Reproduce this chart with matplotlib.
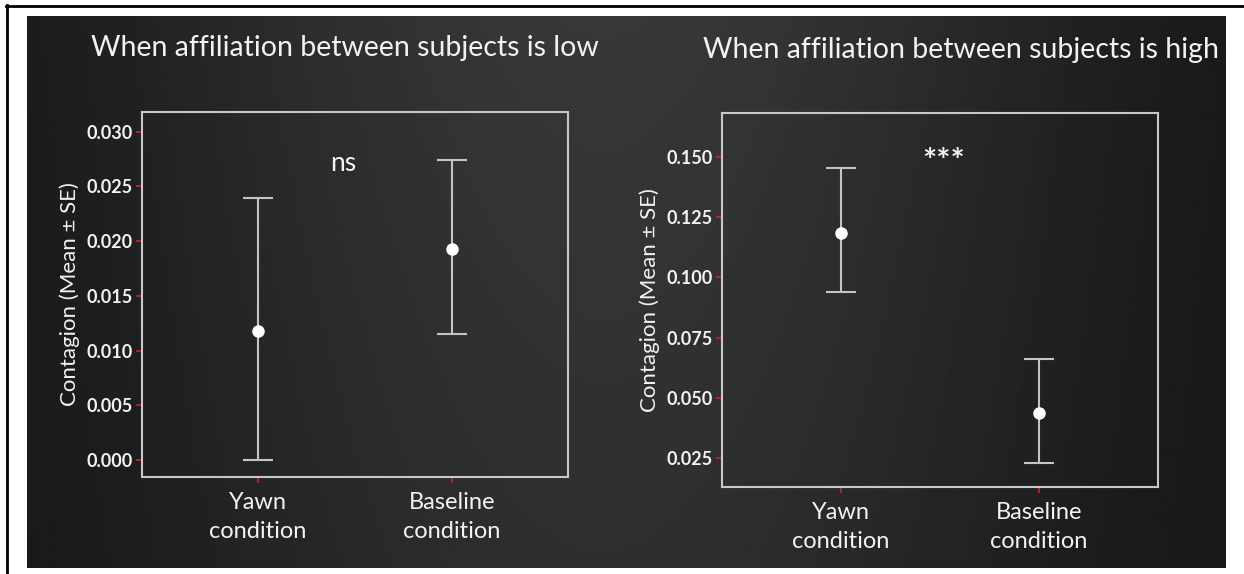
import numpy as np
import matplotlib
matplotlib.use('Agg')
import matplotlib.pyplot as plt
from matplotlib.lines import Line2D

plt.rcParams['font.family'] = ['Lato', 'DejaVu Sans']

# data
conditions = ['Yawn\ncondition', 'Baseline\ncondition']

low_mean = [0.0118, 0.0193]
low_lower = [0.0000, 0.0115]
low_upper = [0.0239, 0.0274]

high_mean = [0.1186, 0.0438]
high_lower = [0.0939, 0.0231]
high_upper = [0.1453, 0.0661]

low_ticks = [0.000, 0.005, 0.010, 0.015, 0.020, 0.025, 0.030]
high_ticks = [0.025, 0.050, 0.075, 0.100, 0.125, 0.150]

titles = ['When affiliation between subjects is low',
          'When affiliation between subjects is high']
signif = ['ns', '***']

W, H = 1244, 574
fig = plt.figure(figsize=(W / 100, H / 100), dpi=100, facecolor='white')

# dark slide background with a soft gradient
bg = fig.add_axes([27 / W, 1 - 568 / H, (1226 - 27) / W, (568 - 16) / H])
gx = np.linspace(0, 1, 400)
gy = np.linspace(0, 1, 200)
X, Y = np.meshgrid(gx, gy)
shade = 0.07 + 0.15 * np.exp(-((X - 0.48) / 0.42) ** 2) * (0.75 + 0.25 * Y)
bg.imshow(shade, cmap='gray', vmin=0, vmax=1, aspect='auto', origin='lower',
          extent=[0, 1, 0, 1])
bg.set_axis_off()

# black frame lines at top and left
fig.add_artist(Line2D([6 / W, 1], [1 - 5.5 / H, 1 - 5.5 / H], color='black', lw=2))
fig.add_artist(Line2D([6.5 / W, 6.5 / W], [0, 1 - 5 / H], color='black', lw=2))

frame_col = '#c8c8c8'
bar_col = '#c4c4c4'
text_col = '#f2f2f2'


def panel(rect, means, lower, upper, ticks, ylim, fmt):
    ax = fig.add_axes(rect)
    ax.patch.set_alpha(0)
    x = np.arange(1, len(means) + 1)
    m = np.array(means)
    yerr = [m - np.array(lower), np.array(upper) - m]
    ax.errorbar(x, m, yerr=yerr, fmt='o', color='white', ecolor=bar_col,
                elinewidth=1.5, capsize=11, capthick=1.5, markersize=8,
                markeredgecolor='white')
    ax.set_xlim(0.4, 2.6)
    ax.set_ylim(*ylim)
    ax.set_yticks(ticks)
    ax.set_yticklabels([fmt % t for t in ticks])
    ax.set_xticks(x)
    ax.set_xticklabels(conditions)
    for s in ax.spines.values():
        s.set_color(frame_col)
        s.set_linewidth(1.5)
    ax.tick_params(axis='y', colors='#d02020', length=4, width=1.2,
                   labelcolor=text_col, labelsize=13, pad=3)
    ax.tick_params(axis='x', colors='#d02020', length=4, width=1.2,
                   labelcolor=text_col, labelsize=17, pad=7)
    for lab in ax.get_yticklabels():
        lab.set_fontweight('bold')
    for lab in ax.get_xticklabels():
        lab.set_linespacing(1.45)
    ax.set_ylabel('Contagion (Mean ± SE)', color=text_col, fontsize=16,
                  labelpad=4)
    return ax


ax1 = panel([142 / W, 1 - 477 / H, 426 / W, 365 / H], low_mean, low_lower,
            low_upper, low_ticks, (-0.00155, 0.0318), '%.3f')
ax2 = panel([722 / W, 1 - 487 / H, 436 / W, 374 / H], high_mean, high_lower,
            high_upper, high_ticks, (0.0130, 0.1683), '%.3f')

ax1.text(1.44, 0.0271, signif[0], color=text_col, fontsize=19,
         ha='center', va='center')
ax2.text(1.52, 0.1478, signif[1], color=text_col, fontsize=24,
         ha='center', va='center', fontweight='bold')

fig.text(345 / W, 1 - 48 / H, titles[0], color=text_col, fontsize=20.5,
         ha='center', va='center')
fig.text(961 / W, 1 - 50 / H, titles[1], color=text_col, fontsize=20.5,
         ha='center', va='center')

fig.savefig('out.png', dpi=100, facecolor='white')
